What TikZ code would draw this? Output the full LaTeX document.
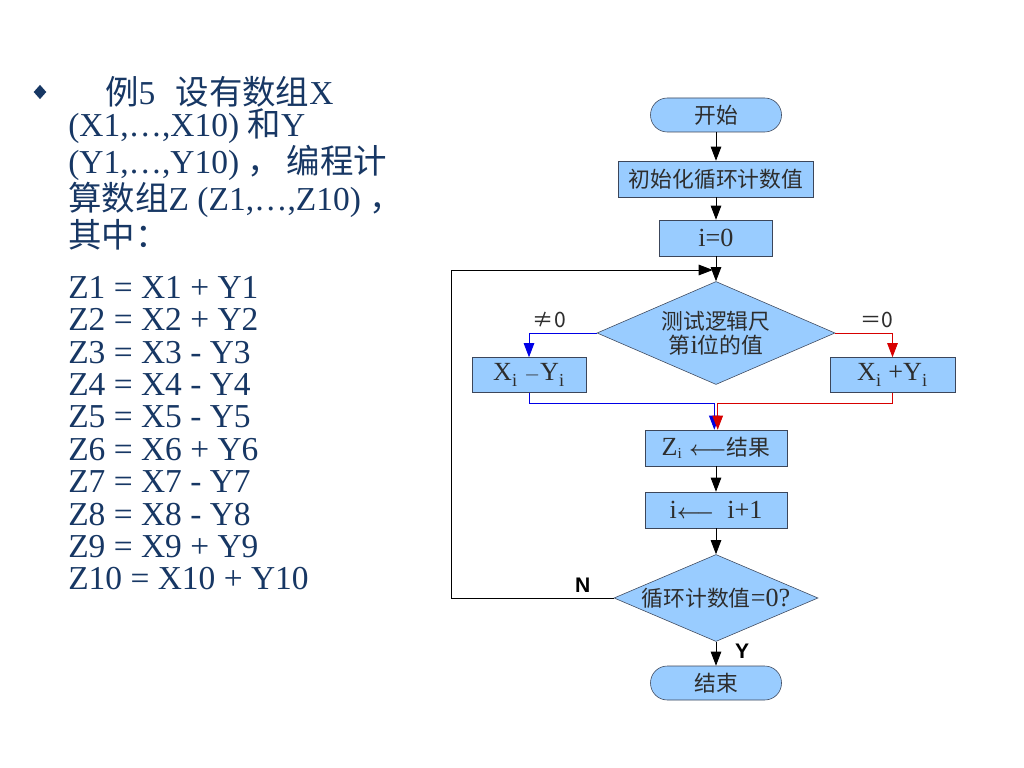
\documentclass[tikz,border=0pt]{standalone}
\usepackage{amsmath}
\usepackage{fontspec}
\setmainfont{Liberation Serif}
\newfontfamily\cjkfont{Noto Sans CJK SC}
\newfontfamily\flowlatin{Liberation Serif}[Scale=1.2]
\newfontfamily\labelfont{Liberation Sans}
\usetikzlibrary{shapes.geometric, positioning, arrows.meta, calc}
\definecolor{boxfill}{RGB}{153,204,255}
\definecolor{boxline}{RGB}{60,70,90}
\definecolor{navytext}{RGB}{23,55,100}
\definecolor{flowtext}{RGB}{45,45,45}
\definecolor{flowblue}{RGB}{0,0,230}
\definecolor{flowred}{RGB}{215,0,0}
\tikzset{%
  node distance=1.6cm, % centre to centre, used with below of
  flowfont/.style={font=\flowlatin\fontsize{15.5}{17}\selectfont, text=flowtext},
  terminal/.style={rectangle, rounded corners=0.42cm, draw=boxline, fill=boxfill,
    minimum width=3.275cm, minimum height=0.85cm, flowfont},
  process/.style={rectangle, draw=boxline, fill=boxfill, minimum height=0.9cm, flowfont},
  decision/.style={diamond, draw=boxline, fill=boxfill, aspect=2.3, inner sep=0pt,
    align=center, flowfont},
  flow/.style={draw=black, line width=0.6pt, -{Triangle[length=10pt, width=7.5pt]}},
  textblock/.style={font=\fontsize{23.8}{23.04}\selectfont, text=navytext, align=left,
    inner sep=0pt, anchor=north west},
  branchlabel/.style={above, font=\cjkfont\fontsize{15}{16}\selectfont, text=flowtext},
  yesno/.style={font=\labelfont\bfseries\fontsize{15}{16}\selectfont},
  every edge/.style={flow}
}

\begin{document}
\begin{tikzpicture}
    \fill[white] (0,0) rectangle (25.6,-19.2);
    \useasboundingbox (0,0) rectangle (25.6,-19.2);

    % task text on the left
    \node[diamond, fill=navytext, inner sep=0pt, minimum width=0.32cm, minimum height=0.36cm] (bullet) at (1.0,-2.3) {};
    \node[textblock] (task) at (1.7,-1.9) {\hspace*{0.925cm}{\cjkfont 例}5\hspace{0.6em}{\cjkfont 设有数组}X\\
      (X1,…,X10) {\cjkfont 和}Y\\
      (Y1,…,Y10) {\cjkfont ，}\,{\cjkfont 编程计}\\
      {\cjkfont 算数组}Z (Z1,…,Z10) {\cjkfont ，}\\
      {\cjkfont 其中：}};
    \node[textblock] (sums) at (1.7,-6.9) {Z1 = X1 + Y1\\ Z2 = X2 + Y2\\ Z3 = X3 - Y3\\
      Z4 = X4 - Y4\\ Z5 = X5 - Y5\\ Z6 = X6 + Y6\\ Z7 = X7 - Y7\\ Z8 = X8 - Y8\\
      Z9 = X9 + Y9\\ Z10 = X10 + Y10};

    % flow chart
    \node[terminal] (start) at (17.9,-2.875) {\cjkfont 开始};
    \node[process, minimum width=4.875cm, below of=start] (init) {\cjkfont 初始化循环计数值};
    \node[process, minimum width=2.825cm, below of=init, node distance=1.475cm] (zero) {i=0};
    \node[decision, minimum width=5.95cm, minimum height=2.575cm, below of=zero, node distance=2.375cm] (test)
      {\cjkfont 测试逻辑尺\\{\cjkfont 第}i{\cjkfont 位的值}};
    \node[process, minimum width=2.85cm, minimum height=0.875cm] (sub) at (13.225,-9.375)
      {X\textsubscript{i} $-$Y\textsubscript{i}};
    \node[process, minimum width=3.125cm, minimum height=0.875cm] (add) at (22.3125,-9.375)
      {X\textsubscript{i} +Y\textsubscript{i}};
    \node[process, minimum width=3.55cm, below of=test, node distance=2.875cm] (store)
      {Z$_\mathrm{i}$ $\boldsymbol{\longleftarrow}${\cjkfont 结果}};
    \node[process, minimum width=3.55cm, below of=store, node distance=1.55cm] (incr)
      {i$\boldsymbol{\longleftarrow}$\ \ i+1};
    \node[decision, minimum width=5.1cm, minimum height=2.175cm, aspect=2.4, below of=incr, node distance=2.2cm] (check)
      {{\cjkfont 循环计数值}=0?};
    \node[terminal, below of=check, node distance=2.125cm] (stop) {\cjkfont 结束};

    \coordinate (back) at (11.275,-14.95);
    \coordinate (loopin) at (17.82,-6.75);
    \coordinate (join) at (17.9,-10.075);

    \draw (start) edge (init);
    \draw (init) edge (zero);
    \draw (zero) edge (test);

    \draw[flow, draw=flowblue] (test.west) -| node[branchlabel, pos=0.35] {≠0} (sub.north);
    \draw[flow, draw=flowred] (test.east) -| node[branchlabel, pos=0.36] {＝0} (add.north);
    \draw[flow, draw=flowblue] (sub.south) |- ([xshift=-1.2pt]join) -- ([xshift=-1.2pt]store.north);
    \draw[flow, draw=flowred] (add.south) |- ([xshift=1.2pt]join) -- ([xshift=1.2pt]store.north);

    \draw (store) edge (incr);
    \draw (incr) edge (check);
    \draw (check) edge node[right=0.35cm, pos=0.4, yesno] {Y} (stop);
    \draw[flow] (check.west) -- node[above, pos=0.19, yesno] {N} (check.west -| back) |- (loopin);
\end{tikzpicture}
\end{document}
